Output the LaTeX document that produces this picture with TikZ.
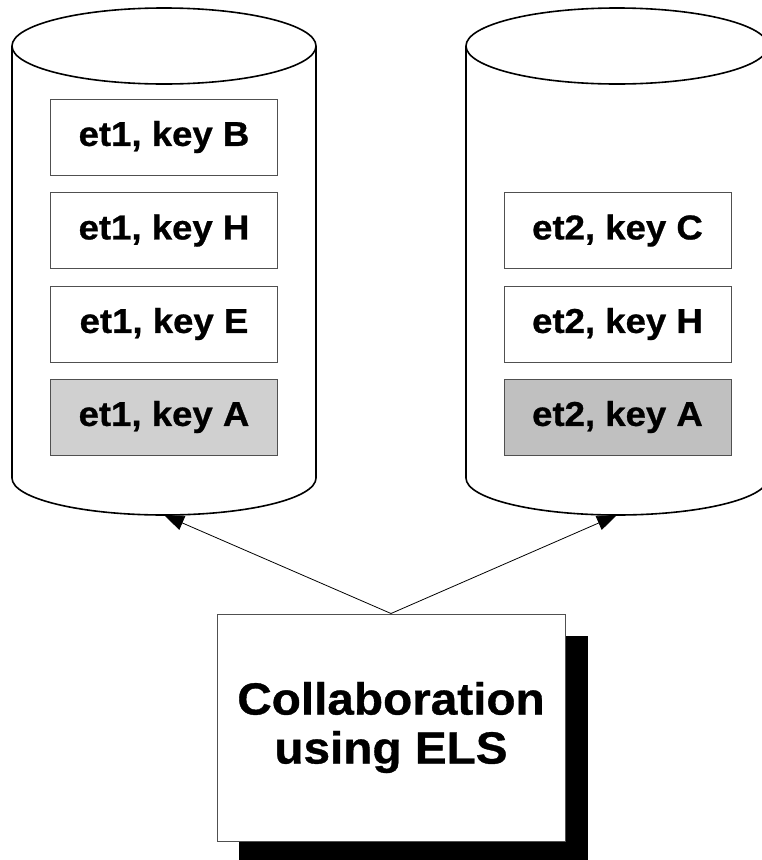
\documentclass[tikz,border=0pt]{standalone}
\usepackage{fontspec}
\setmainfont[FakeStretch=1.06, BoldFeatures={FakeBold=0.8}]{Liberation Sans}
\usetikzlibrary{arrows.meta}
\definecolor{grayL}{RGB}{208,208,208}
\definecolor{grayR}{RGB}{192,192,192}
\definecolor{edge}{RGB}{80,80,80}
\tikzset{
  keybox/.style={draw=edge, line width=1pt, fill=white, minimum width=227pt, minimum height=76pt,
    inner sep=0pt, font=\fontsize{34.5}{40}\selectfont\bfseries},
  cylbody/.style={draw=black, line width=1.6pt, fill=white},
  link/.style={line width=0.8pt, -{Triangle[length=20pt,width=15pt]}},
}
\begin{document}
\begin{tikzpicture}[x=1pt,y=-1pt]
\useasboundingbox (0,0) rectangle (761,860);
% left cylinder
\node[minimum width=304pt, minimum height=432pt, inner sep=0pt, draw=none] (cylL) at (164,262) {};
\draw[cylbody] (12,46) -- (12,478) arc[start angle=180, end angle=0, x radius=152, y radius=37] -- (316,46);
\draw[cylbody] (164,46) ellipse[x radius=152, y radius=38];
\coordinate (cylLbot) at (164,515);
% right cylinder
\node[minimum width=304pt, minimum height=432pt, inner sep=0pt, draw=none] (cylR) at (617,262) {};
\draw[cylbody] (466,46) -- (466,478) arc[start angle=180, end angle=0, x radius=151, y radius=37] -- (768,46);
\draw[cylbody] (617,46) ellipse[x radius=151, y radius=38];
\coordinate (cylRbot) at (617,515);
% left boxes
\node[keybox] (l1) at (164,137) {et1, key B};
\node[keybox] (l2) at (164,230.5) {et1, key H};
\node[keybox] (l3) at (164,324) {et1, key E};
\node[keybox, fill=grayL] (l4) at (164,417) {et1, key A};
% right boxes
\node[keybox] (r1) at (617.5,230.5) {et2, key C};
\node[keybox] (r2) at (617.5,324) {et2, key H};
\node[keybox, fill=grayR] (r3) at (617.5,417) {et2, key A};
% collaboration box with shadow
\fill[black] (239,636) rectangle (588,864);
\node[draw=edge, line width=1pt, fill=white, minimum width=348pt, minimum height=227pt, inner sep=0pt,
  align=center, font=\fontsize{45}{49}\selectfont\bfseries] (collab) at (391,727.5) {Collaboration\\using ELS};
% arrows
\draw[link] (collab.north) -- (cylLbot);
\draw[link] (collab.north) -- (cylRbot);
\end{tikzpicture}
\end{document}
